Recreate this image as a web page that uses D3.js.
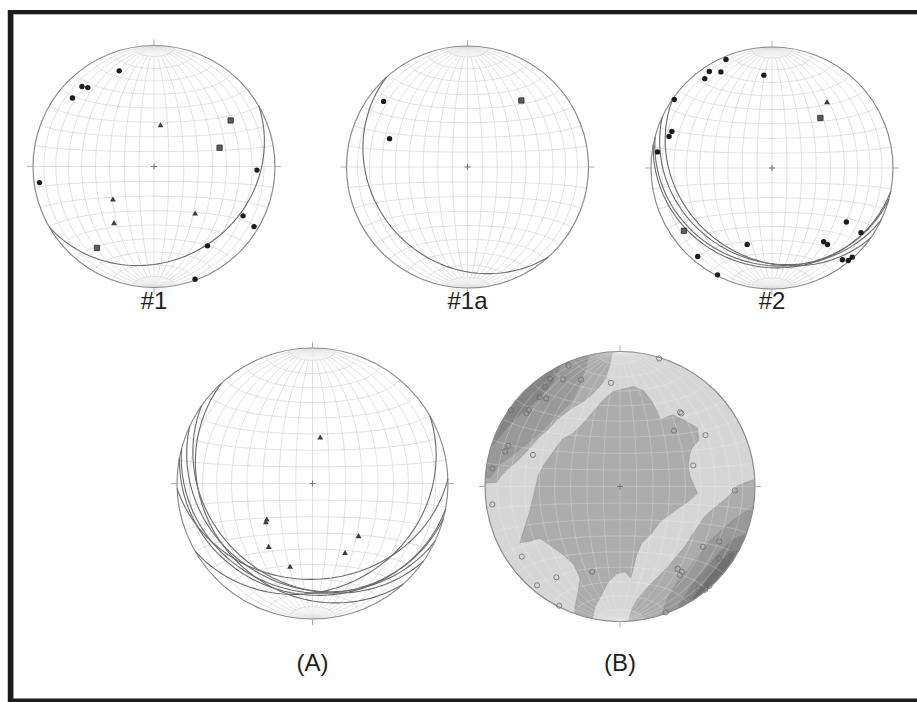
<!DOCTYPE html>
<html>
<head>
<meta charset="utf-8">
<script src="https://cdn.jsdelivr.net/npm/d3@7/dist/d3.min.js"></script>
<style>
  html, body { margin: 0; padding: 0; background: #ffffff; }
  svg { display: block; }
</style>
</head>
<body>
<svg id="fig" width="917" height="702"></svg>
<script>
// ---------------------------------------------------------------------------
// Orientation data (lower-hemisphere, equal-area).
// Planes are [dip direction, dip]; lines and poles are [trend, plunge].
// ---------------------------------------------------------------------------
const net1Planes    = [[150, 23]];
const net1Poles     = [[340, 17], [318, 12], [320, 16], [310, 13], [262, 5], [92, 16],
                       [119, 17], [121, 4], [146, 22], [160, 1]];
const net1Squares   = [[59, 27], [74, 43], [215, 19]];
const net1Triangles = [[9, 62], [231, 54], [215, 42], [139, 47]];

const net1aPlanes   = [[228, 21]];
const net1aPoles    = [[308, 13], [290, 32]];
const net1aSquares  = [[39, 30]];

const net2Planes    = [[215, 26], [205, 24], [195, 21], [191, 19]];
const net2Poles     = [[337, 3], [327, 5.5], [332, 11], [323, 8.5], [355, 24], [305, 1.6],
                       [290, 13], [287, 12], [278, 5], [220, 5], [207, 1], [198, 34],
                       [126, 25], [126, 10], [145, 26.5], [144, 23], [142.5, 5], [140.5, 1], [138, 1]];
const net2Squares   = [[44, 42], [234.5, 11.6]];
const net2Triangles = [[40, 30]];

const netAExtraPlanes = [[178, 30]];
const netATriangles   = [[9.6, 62], [231.5, 54.5], [230, 53], [214.5, 42.4], [195, 36.3],
                         [139, 47], [155, 42.6]];

const netBExtraPoles  = [[17, 1]];

// Density contours for (B): boundary vertices in units of the net radius [east, north].
const contourCentral = [
  [0.099, 0.741], [0.173, 0.711], [0.235, 0.630], [0.277, 0.556], [0.301, 0.494], [0.390, 0.531],
  [0.469, 0.494], [0.575, 0.432], [0.583, 0.341], [0.531, 0.284], [0.514, 0.222], [0.506, 0.148],
  [0.519, 0.074], [0.573, -0.049], [0.506, -0.111], [0.432, -0.160], [0.365, -0.210], [0.296, -0.259],
  [0.235, -0.346], [0.160, -0.420], [0.123, -0.506], [0.099, -0.605], [0.079, -0.679], [0.037, -0.630],
  [-0.025, -0.647], [-0.086, -0.704], [-0.136, -0.802], [-0.185, -0.889], [-0.222, -1.05], [-0.346, -1.05],
  [-0.333, -0.889], [-0.309, -0.778], [-0.296, -0.679], [-0.341, -0.580], [-0.420, -0.506], [-0.506, -0.444],
  [-0.593, -0.383], [-0.679, -0.407], [-0.741, -0.415], [-0.704, -0.296], [-0.662, -0.160], [-0.630, -0.025],
  [-0.605, 0.086], [-0.556, 0.173], [-0.494, 0.259], [-0.432, 0.346], [-0.346, 0.395], [-0.272, 0.469],
  [-0.198, 0.556], [-0.123, 0.642], [-0.049, 0.704]
];
const contourNW = [
  [[-0.049, 1.012], [-0.062, 0.975], [-0.079, 0.889], [-0.104, 0.802], [-0.136, 0.760], [-0.198, 0.691],
   [-0.272, 0.630], [-0.346, 0.588], [-0.407, 0.543], [-0.469, 0.494], [-0.523, 0.432], [-0.580, 0.383],
   [-0.630, 0.333], [-0.691, 0.259], [-0.765, 0.185], [-0.840, 0.123], [-0.889, 0.069], [-0.914, 0.030],
   [-1.012, 0.025]],
  [[-0.222, 0.998], [-0.281, 0.790], [-0.356, 0.627], [-0.467, 0.524], [-0.570, 0.420], [-0.681, 0.324],
   [-0.785, 0.242], [-0.889, 0.161], [-0.963, 0.064], [-1.040, 0.064]],
  [[-0.407, 0.968], [-0.496, 0.768], [-0.607, 0.642], [-0.726, 0.546], [-0.830, 0.442], [-0.919, 0.331],
   [-0.990, 0.258]],
  [[-0.556, 0.901], [-0.667, 0.753], [-0.778, 0.642], [-0.867, 0.531], [-0.926, 0.457], [-0.990, 0.420]]
];
const contourSE = [
  [[0.988, 0.049], [0.914, 0.025], [0.864, 0.000], [0.827, -0.049], [0.785, -0.091], [0.728, -0.136],
   [0.667, -0.185], [0.617, -0.235], [0.588, -0.284], [0.543, -0.346], [0.481, -0.444], [0.407, -0.531],
   [0.346, -0.605], [0.272, -0.679], [0.198, -0.753], [0.136, -0.827], [0.091, -0.901], [0.062, -1.000]],
  [[0.988, -0.148], [0.840, -0.247], [0.765, -0.309], [0.667, -0.400], [0.593, -0.494], [0.519, -0.598],
   [0.432, -0.696], [0.358, -0.815], [0.309, -0.938], [0.284, -1.010]],
  [[0.975, -0.333], [0.827, -0.395], [0.728, -0.494], [0.630, -0.612], [0.531, -0.728], [0.457, -0.840],
   [0.407, -0.938], [0.390, -1.000]],
  [[0.951, -0.444], [0.802, -0.494], [0.704, -0.605], [0.617, -0.716], [0.543, -0.815], [0.494, -0.914],
   [0.480, -1.000]]
];

const netLabels = ["#1", "#1a", "#2", "(A)", "(B)"];

// ---------------------------------------------------------------------------
// Layout and style
// ---------------------------------------------------------------------------
const svg = d3.select("#fig");
const gridColour = "#cdcdcd";
const capColour = "#dcdcdc";
const rimColour = "#8c8c8c";
const contourShades = ["#acacac", "#999999", "#858585", "#707070"];
const backgroundShade = "#d6d6d6";

const layout = [
  { cx: 154, cy: 166.5, r: 121, labelY: 309 },
  { cx: 467.5, cy: 167, r: 121, labelY: 309 },
  { cx: 772, cy: 168, r: 121, labelY: 309 },
  { cx: 312.5, cy: 483.5, r: 135.5, labelY: 671 },
  { cx: 620, cy: 486.5, r: 135, labelY: 671 }
];

// Frame
svg.append("rect").attr("width", 917).attr("height", 702).attr("fill", "#ffffff");
const frame = svg.append("g").attr("stroke", "#1c1c1c").attr("fill", "none");
frame.append("line").attr("x1", 10.5).attr("x2", 10.5).attr("y1", 10).attr("y2", 702).attr("stroke-width", 5.5);
frame.append("line").attr("x1", 8).attr("x2", 917).attr("y1", 12).attr("y2", 12).attr("stroke-width", 4);
frame.append("line").attr("x1", 8).attr("x2", 917).attr("y1", 700.5).attr("y2", 700.5).attr("stroke-width", 4);
svg.append("line").attr("x1", 13.5).attr("x2", 917).attr("y1", 14.5).attr("y2", 14.5)
  .attr("stroke", "#bdbdbd").attr("stroke-width", 1);
svg.append("line").attr("x1", 13.5).attr("x2", 13.5).attr("y1", 14.5).attr("y2", 698)
  .attr("stroke", "#9a9a9a").attr("stroke-width", 1);

// ---------------------------------------------------------------------------
// Geometry helpers: directions are mapped onto a sphere whose centre of view
// is the nadir, north to the top and east to the right, so that the
// equatorial equal-area azimuthal projection is the Schmidt net.
// ---------------------------------------------------------------------------
const rad = Math.PI / 180;
const clamp = v => Math.max(-1, Math.min(1, v));
function vecToLonLat(n, e, d) {
  return [Math.atan2(e, d) / rad, Math.asin(clamp(n)) / rad];
}
function lineToLonLat([trend, plunge]) {
  const t = trend * rad, p = plunge * rad;
  return vecToLonLat(Math.cos(p) * Math.cos(t), Math.cos(p) * Math.sin(t), Math.sin(p));
}
function planeToGeo([dd, dip]) {
  const s = (dd - 90) * rad, a = dd * rad, dp = dip * rad;
  const sv = [Math.cos(s), Math.sin(s), 0];
  const dv = [Math.cos(dp) * Math.cos(a), Math.cos(dp) * Math.sin(a), Math.sin(dp)];
  const coords = d3.range(0, 180.001, 2).map(k => {
    const c = Math.cos(k * rad), sn = Math.sin(k * rad);
    return vecToLonLat(c * sv[0] + sn * dv[0], c * sv[1] + sn * dv[1], c * sv[2] + sn * dv[2]);
  });
  return { type: "LineString", coordinates: coords };
}
function netGrid() {
  const lines = [];
  for (let lat = -80; lat <= 80; lat += 10) lines.push(d3.range(-90, 90.001, 2).map(lon => [lon, lat]));
  for (let lon = -80; lon <= 80; lon += 10) lines.push(d3.range(-80, 80.001, 2).map(lat => [lon, lat]));
  return { type: "MultiLineString", coordinates: lines };
}
function capGrid() {
  const lines = [];
  for (let lon = -85; lon <= 85; lon += 5) {
    lines.push([[lon, 80], [lon, 90]]);
    lines.push([[lon, -80], [lon, -90]]);
  }
  return { type: "MultiLineString", coordinates: lines };
}

function makeNet(spec, opts) {
  const { cx, cy, r } = spec;
  const projection = d3.geoAzimuthalEqualArea()
    .rotate([0, 0]).scale(r / Math.SQRT2).translate([cx, cy]).precision(0.2);
  const path = d3.geoPath(projection);
  const g = svg.append("g");

  if (opts.contours) {
    const clipId = "clip-" + Math.round(cx);
    g.append("clipPath").attr("id", clipId).append("circle").attr("cx", cx).attr("cy", cy).attr("r", r);
    g.append("circle").attr("cx", cx).attr("cy", cy).attr("r", r).attr("fill", backgroundShade);
    const x = d3.scaleLinear().domain([-1, 1]).range([cx - r, cx + r]);
    const y = d3.scaleLinear().domain([-1, 1]).range([cy + r, cy - r]);
    const line = d3.line().x(d => x(d[0])).y(d => y(d[1])).curve(d3.curveLinearClosed);
    const fillG = g.append("g").attr("clip-path", `url(#${clipId})`);
    opts.contours.forEach((level, i) => {
      level.forEach(poly => {
        fillG.append("path").attr("d", line(poly)).attr("fill", contourShades[i])
          .attr("stroke", "#8f8f8f").attr("stroke-width", 0.5);
      });
    });
  }

  const onShade = !!opts.contours;
  g.append("path").datum(capGrid()).attr("d", path).attr("fill", "none")
    .attr("stroke", onShade ? "#f4f4f4" : capColour)
    .attr("stroke-opacity", onShade ? 0.4 : 1)
    .attr("stroke-width", 0.5);
  g.append("path").datum(netGrid()).attr("d", path).attr("fill", "none")
    .attr("stroke", onShade ? "#f4f4f4" : gridColour)
    .attr("stroke-opacity", onShade ? 0.45 : 1)
    .attr("stroke-width", 0.6);

  g.append("circle").attr("cx", cx).attr("cy", cy).attr("r", r)
    .attr("fill", "none").attr("stroke", rimColour).attr("stroke-width", 1.2);

  const tick = 6;
  const ticks = [[cx, cy - r - tick, cx, cy - r], [cx, cy + r, cx, cy + r + tick],
                 [cx - r - tick, cy, cx - r, cy], [cx + r, cy, cx + r + tick, cy]];
  g.selectAll(null).data(ticks).join("line")
    .attr("x1", d => d[0]).attr("y1", d => d[1]).attr("x2", d => d[2]).attr("y2", d => d[3])
    .attr("stroke", "#b0b0b0").attr("stroke-width", 1);
  g.append("path").attr("d", `M${cx - 3},${cy}H${cx + 3}M${cx},${cy - 3}V${cy + 3}`)
    .attr("stroke", "#777").attr("stroke-width", 1);

  (opts.planes || []).forEach(p => {
    g.append("path").datum(planeToGeo(p)).attr("d", path).attr("fill", "none")
      .attr("stroke", "#6a6a6a").attr("stroke-width", 1.1);
  });

  const pos = d => projection(lineToLonLat(d));
  g.selectAll(null).data(opts.poles || []).join("circle")
    .attr("cx", d => pos(d)[0]).attr("cy", d => pos(d)[1]).attr("r", 2.7).attr("fill", "#1c1c1c");
  g.selectAll(null).data(opts.open || []).join("circle")
    .attr("cx", d => pos(d)[0]).attr("cy", d => pos(d)[1]).attr("r", 2.6)
    .attr("fill", "none").attr("stroke", "#6a6a6a").attr("stroke-width", 0.8);
  g.selectAll(null).data(opts.squares || []).join("path")
    .attr("d", d3.symbol(d3.symbolSquare, 28))
    .attr("transform", d => `translate(${pos(d)})`)
    .attr("fill", "#5e5e5e").attr("stroke", "#2a2a2a").attr("stroke-width", 0.8);
  g.selectAll(null).data(opts.triangles || []).join("path")
    .attr("d", d3.symbol(d3.symbolTriangle, 15))
    .attr("transform", d => `translate(${pos(d)})`)
    .attr("fill", "#3c3c3c");
}

makeNet(layout[0], { planes: net1Planes, poles: net1Poles, squares: net1Squares, triangles: net1Triangles });
makeNet(layout[1], { planes: net1aPlanes, poles: net1aPoles, squares: net1aSquares });
makeNet(layout[2], { planes: net2Planes, poles: net2Poles, squares: net2Squares, triangles: net2Triangles });
makeNet(layout[3], {
  planes: [...net1Planes, ...net1aPlanes, ...net2Planes, ...netAExtraPlanes],
  triangles: netATriangles
});

// (B): contoured density of all poles, with the poles drawn as open circles
{
  // close an edge-to-edge boundary through the corner outside the disc
  const bandClose = (b, sx, sy) => {
    const f = b[0], l = b[b.length - 1];
    return b.concat([[l[0] * 1.5, l[1] * 1.5], [sx * 1.5, sy * 1.5], [f[0] * 1.5, f[1] * 1.5]]);
  };
  const levels = [
    [contourCentral, bandClose(contourNW[0], -1, 1), bandClose(contourSE[0], 1, -1)],
    [bandClose(contourNW[1], -1, 1), bandClose(contourSE[1], 1, -1)],
    [bandClose(contourNW[2], -1, 1), bandClose(contourSE[2], 1, -1)],
    [bandClose(contourNW[3], -1, 1), bandClose(contourSE[3], 1, -1)]
  ];
  makeNet(layout[4], {
    contours: levels,
    open: [...net1Poles, ...net1Squares, ...net1aPoles, ...net1aSquares,
           ...net2Poles, ...net2Squares, ...net2Triangles, ...netBExtraPoles]
  });
}

// Panel labels
svg.selectAll("text.label").data(netLabels).join("text")
  .attr("class", "label")
  .attr("x", (d, i) => layout[i].cx)
  .attr("y", (d, i) => layout[i].labelY)
  .attr("text-anchor", "middle")
  .attr("font-family", "'Liberation Sans', Arial, sans-serif")
  .attr("font-size", 24)
  .attr("fill", "#1e1e1e")
  .text(d => d);
</script>
</body>
</html>
